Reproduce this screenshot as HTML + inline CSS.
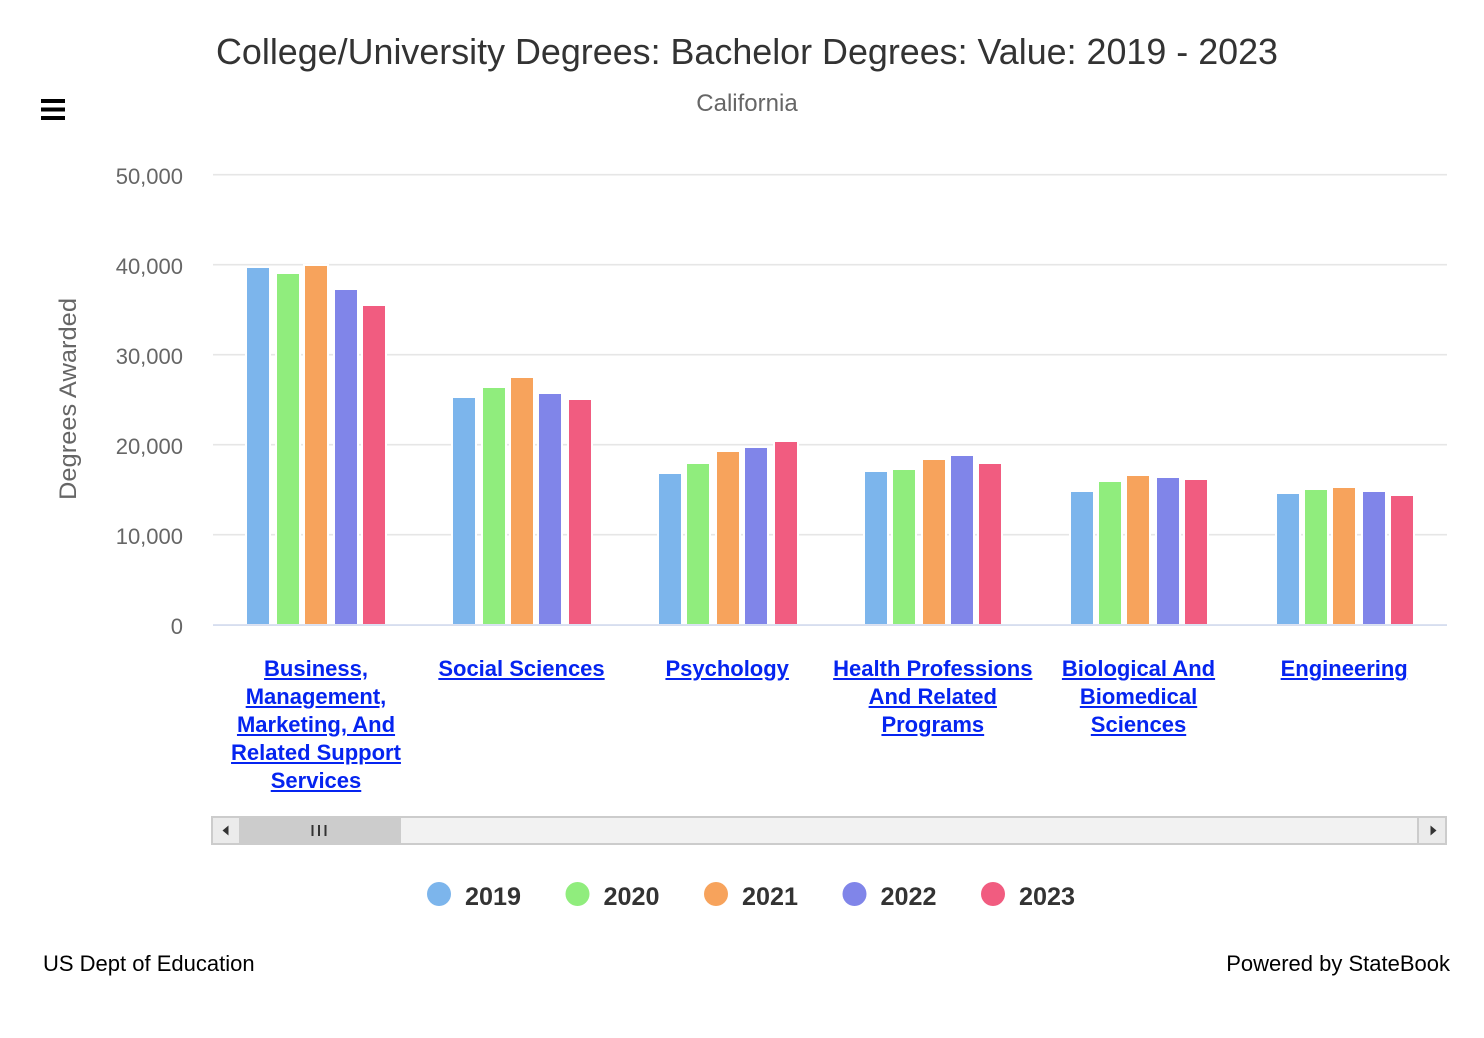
<!DOCTYPE html>
<html>
<head>
<meta charset="utf-8">
<style>
  html,body{margin:0;padding:0;background:#fff;}
  body{width:1484px;height:1038px;position:relative;overflow:hidden;font-family:"Liberation Sans",Arial,sans-serif;}
  svg{position:absolute;left:0;top:0;}
  .xl{position:absolute;width:220px;margin-left:-110px;text-align:center;font-weight:bold;font-size:22px;line-height:28px;color:#0524f0;text-decoration:underline;white-space:nowrap;top:655px;}
</style>
</head>
<body>
<svg width="1484" height="1038" viewBox="0 0 1484 1038" xmlns="http://www.w3.org/2000/svg" font-family="Liberation Sans, Arial, sans-serif">
  <rect x="0" y="0" width="1484" height="1038" fill="#fff"/>
  <!-- title -->
  <text x="747" y="64" text-anchor="middle" font-size="36" fill="#333" textLength="1062" lengthAdjust="spacingAndGlyphs">College/University Degrees: Bachelor Degrees: Value: 2019 - 2023</text>
  <text x="747" y="111" text-anchor="middle" font-size="24" fill="#666">California</text>
  <!-- hamburger -->
  <rect x="41" y="99" width="24" height="4" fill="#000"/>
  <rect x="41" y="107.5" width="24" height="4" fill="#000"/>
  <rect x="41" y="116" width="24" height="4" fill="#000"/>
  <!-- gridlines -->
  <g stroke="#e6e6e6" stroke-width="1.6">
    <line x1="213" x2="1447" y1="174.7" y2="174.7"/>
    <line x1="213" x2="1447" y1="264.7" y2="264.7"/>
    <line x1="213" x2="1447" y1="354.7" y2="354.7"/>
    <line x1="213" x2="1447" y1="444.7" y2="444.7"/>
    <line x1="213" x2="1447" y1="534.7" y2="534.7"/>
  </g>
  <!-- y labels -->
  <g font-size="22" fill="#666" text-anchor="end">
    <text x="183" y="184">50,000</text>
    <text x="183" y="274">40,000</text>
    <text x="183" y="364">30,000</text>
    <text x="183" y="454">20,000</text>
    <text x="183" y="544">10,000</text>
    <text x="183" y="634">0</text>
  </g>
  <text transform="translate(76,399) rotate(-90)" text-anchor="middle" font-size="24" fill="#666" textLength="202" lengthAdjust="spacingAndGlyphs">Degrees Awarded</text>

  <!-- bars -->
  <g>
    <g fill="#fff">
      <rect x="245" y="266" width="26" height="358"/><rect x="275" y="272" width="26" height="352"/><rect x="303" y="264" width="26" height="360"/><rect x="333" y="288" width="26" height="336"/><rect x="361" y="304" width="26" height="320"/>
      <rect x="451" y="396" width="26" height="228"/><rect x="481" y="386" width="26" height="238"/><rect x="509" y="376" width="26" height="248"/><rect x="537" y="392" width="26" height="232"/><rect x="567" y="398" width="26" height="226"/>
      <rect x="657" y="472" width="26" height="152"/><rect x="685" y="462" width="26" height="162"/><rect x="715" y="450" width="26" height="174"/><rect x="743" y="446" width="26" height="178"/><rect x="773" y="440" width="26" height="184"/>
      <rect x="863" y="470" width="26" height="154"/><rect x="891" y="468" width="26" height="156"/><rect x="921" y="458" width="26" height="166"/><rect x="949" y="454" width="26" height="170"/><rect x="977" y="462" width="26" height="162"/>
      <rect x="1069" y="490" width="26" height="134"/><rect x="1097" y="480" width="26" height="144"/><rect x="1125" y="474" width="26" height="150"/><rect x="1155" y="476" width="26" height="148"/><rect x="1183" y="478" width="26" height="146"/>
      <rect x="1275" y="492" width="26" height="132"/><rect x="1303" y="488" width="26" height="136"/><rect x="1331" y="486" width="26" height="138"/><rect x="1361" y="490" width="26" height="134"/><rect x="1389" y="494" width="26" height="130"/>
    </g>
    <g fill="#7cb5ec">
      <rect x="247" y="268" width="22" height="356"/>
      <rect x="453" y="398" width="22" height="226"/>
      <rect x="659" y="474" width="22" height="150"/>
      <rect x="865" y="472" width="22" height="152"/>
      <rect x="1071" y="492" width="22" height="132"/>
      <rect x="1277" y="494" width="22" height="130"/>
    </g>
    <g fill="#90ed7d">
      <rect x="277" y="274" width="22" height="350"/>
      <rect x="483" y="388" width="22" height="236"/>
      <rect x="687" y="464" width="22" height="160"/>
      <rect x="893" y="470" width="22" height="154"/>
      <rect x="1099" y="482" width="22" height="142"/>
      <rect x="1305" y="490" width="22" height="134"/>
    </g>
    <g fill="#f7a35c">
      <rect x="305" y="266" width="22" height="358"/>
      <rect x="511" y="378" width="22" height="246"/>
      <rect x="717" y="452" width="22" height="172"/>
      <rect x="923" y="460" width="22" height="164"/>
      <rect x="1127" y="476" width="22" height="148"/>
      <rect x="1333" y="488" width="22" height="136"/>
    </g>
    <g fill="#8085e9">
      <rect x="335" y="290" width="22" height="334"/>
      <rect x="539" y="394" width="22" height="230"/>
      <rect x="745" y="448" width="22" height="176"/>
      <rect x="951" y="456" width="22" height="168"/>
      <rect x="1157" y="478" width="22" height="146"/>
      <rect x="1363" y="492" width="22" height="132"/>
    </g>
    <g fill="#f15c80">
      <rect x="363" y="306" width="22" height="318"/>
      <rect x="569" y="400" width="22" height="224"/>
      <rect x="775" y="442" width="22" height="182"/>
      <rect x="979" y="464" width="22" height="160"/>
      <rect x="1185" y="480" width="22" height="144"/>
      <rect x="1391" y="496" width="22" height="128"/>
    </g>
  </g>
  <rect x="213" y="624.3" width="1234" height="1.5" fill="#ccd6eb"/>

  <!-- scrollbar -->
  <rect x="212" y="817" width="1234" height="27" fill="#f2f2f2" stroke="#cccccc" stroke-width="2"/>
  <rect x="213" y="818" width="26" height="25" fill="#ebebeb"/>
  <rect x="239" y="818" width="162" height="25" fill="#cccccc"/>
  <g stroke="#333" stroke-width="2">
    <line x1="312.5" x2="312.5" y1="825" y2="836"/>
    <line x1="319" x2="319" y1="825" y2="836"/>
    <line x1="325.5" x2="325.5" y1="825" y2="836"/>
  </g>
  <path d="M222.5 830.5 L228.5 825.5 L228.5 835.5 Z" fill="#333"/>
  <rect x="1418" y="818" width="27" height="25" fill="#ebebeb"/>
  <rect x="1417" y="817" width="2" height="27" fill="#cccccc"/>
  <path d="M1436.5 830.5 L1430.5 825.5 L1430.5 835.5 Z" fill="#333"/>

  <!-- legend -->
  <g font-size="25" font-weight="bold" fill="#333">
    <circle cx="439" cy="894" r="12" fill="#7cb5ec"/>
    <text x="465" y="905" textLength="56" lengthAdjust="spacingAndGlyphs">2019</text>
    <circle cx="577.5" cy="894" r="12" fill="#90ed7d"/>
    <text x="603.5" y="905" textLength="56" lengthAdjust="spacingAndGlyphs">2020</text>
    <circle cx="716" cy="894" r="12" fill="#f7a35c"/>
    <text x="742" y="905" textLength="56" lengthAdjust="spacingAndGlyphs">2021</text>
    <circle cx="854.5" cy="894" r="12" fill="#8085e9"/>
    <text x="880.5" y="905" textLength="56" lengthAdjust="spacingAndGlyphs">2022</text>
    <circle cx="993" cy="894" r="12" fill="#f15c80"/>
    <text x="1019" y="905" textLength="56" lengthAdjust="spacingAndGlyphs">2023</text>
  </g>
  <!-- credits -->
  <text x="43" y="971" font-size="22" fill="#000">US Dept of Education</text>
  <text x="1450" y="971" font-size="22" fill="#000" text-anchor="end">Powered by StateBook</text>
</svg>

<div class="xl" style="left:316px;">Business,<br>Management,<br>Marketing, And<br>Related Support<br>Services</div>
<div class="xl" style="left:521.5px;">Social Sciences</div>
<div class="xl" style="left:727.2px;">Psychology</div>
<div class="xl" style="left:932.8px;">Health Professions<br>And Related<br>Programs</div>
<div class="xl" style="left:1138.5px;">Biological And<br>Biomedical<br>Sciences</div>
<div class="xl" style="left:1344.2px;">Engineering</div>
</body>
</html>
